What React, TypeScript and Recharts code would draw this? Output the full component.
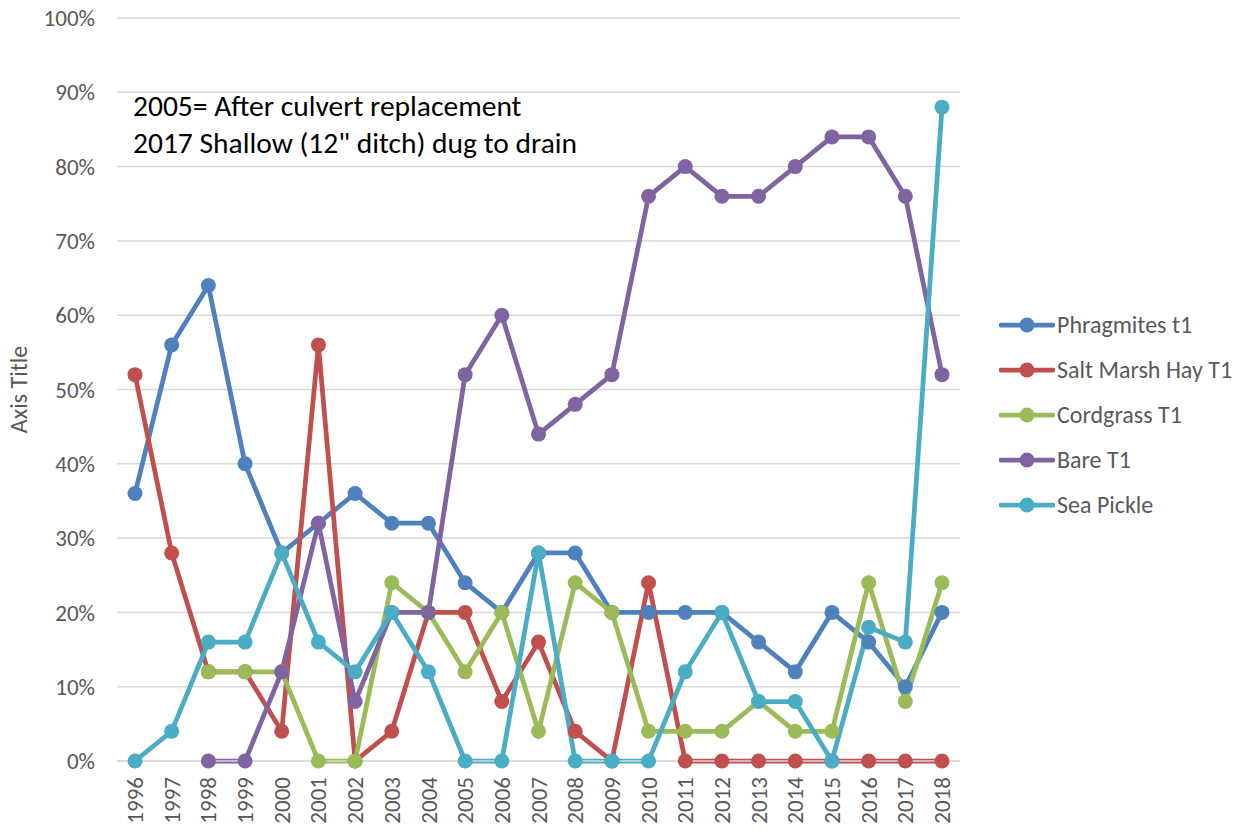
import React from 'react';
import {
  LineChart,
  Line,
  XAxis,
  YAxis,
  CartesianGrid,
  Legend,
  Label,
} from 'recharts';

const years = [
  '1996', '1997', '1998', '1999', '2000', '2001', '2002', '2003', '2004', '2005', '2006', '2007',
  '2008', '2009', '2010', '2011', '2012', '2013', '2014', '2015', '2016', '2017', '2018',
];

const phragmites = [36, 56, 64, 40, 28, 32, 36, 32, 32, 24, 20, 28, 28, 20, 20, 20, 20, 16, 12, 20, 16, 10, 20];
const saltMarshHay = [52, 28, 12, 12, 4, 56, 0, 4, 20, 20, 8, 16, 4, 0, 24, 0, 0, 0, 0, 0, 0, 0, 0];
const cordgrass = [null, null, 12, 12, 12, 0, 0, 24, 20, 12, 20, 4, 24, 20, 4, 4, 4, 8, 4, 4, 24, 8, 24];
const bare = [null, null, 0, 0, 12, 32, 8, 20, 20, 52, 60, 44, 48, 52, 76, 80, 76, 76, 80, 84, 84, 76, 52];
const seaPickle = [0, 4, 16, 16, 28, 16, 12, 20, 12, 0, 0, 28, 0, 0, 0, 12, 20, 8, 8, 0, 18, 16, 88];

const yTicks = [0, 10, 20, 30, 40, 50, 60, 70, 80, 90, 100];

const series = [
  { key: 'phragmites', name: 'Phragmites t1', color: '#4F81BD' },
  { key: 'saltMarshHay', name: 'Salt Marsh Hay T1', color: '#C0504D' },
  { key: 'cordgrass', name: 'Cordgrass T1', color: '#9BBB59' },
  { key: 'bare', name: 'Bare T1', color: '#8064A2' },
  { key: 'seaPickle', name: 'Sea Pickle', color: '#4BACC6' },
];

const data = years.map((year, i) => ({
  year,
  phragmites: phragmites[i],
  saltMarshHay: saltMarshHay[i],
  cordgrass: cordgrass[i],
  bare: bare[i],
  seaPickle: seaPickle[i],
}));

const FONT = "Carlito, Calibri, 'Liberation Sans', sans-serif";
const GREY = '#595959';

// rotated year labels under the axis
const YearTick = (props: any) => {
  const { x, y, payload } = props;
  return (
    <g transform={`translate(${x},${y + 8})`}>
      <text
        x={0}
        y={0}
        dy="0.35em"
        transform="rotate(-90)"
        textAnchor="end"
        fill={GREY}
        fontSize={23}
        fontFamily={FONT}
      >
        {payload.value}
      </text>
    </g>
  );
};

const AxisTitle = (props: any) => {
  const { viewBox } = props;
  const cy = viewBox.y + viewBox.height / 2;
  return (
    <text
      x={19}
      y={cy}
      dy="0.35em"
      transform={`rotate(-90, 19, ${cy})`}
      textAnchor="middle"
      fill={GREY}
      fontSize={24}
      fontFamily={FONT}
    >
      Axis Title
    </text>
  );
};

const renderLegend = () => (
  <div style={{ fontFamily: FONT }}>
    {series.map((s) => (
      <div key={s.key} style={{ display: 'flex', alignItems: 'center', height: 45 }}>
        <svg width={56} height={16} style={{ marginRight: 2 }}>
          <line x1={2} y1={8} x2={54} y2={8} stroke={s.color} strokeWidth={4.75} strokeLinecap="round" />
          <circle cx={28} cy={8} r={7.5} fill={s.color} />
        </svg>
        <span style={{ fontSize: 24, color: GREY, lineHeight: '24px' }}>{s.name}</span>
      </div>
    ))}
  </div>
);

export default function App() {
  return (
    <div style={{ position: 'absolute', left: 0, top: 0, width: 1241, height: 829, background: '#fff' }}>
      <LineChart
        width={1241}
        height={829}
        data={data}
        margin={{ top: 18, right: 281, left: 0, bottom: 0 }}
      >
        <CartesianGrid vertical={false} stroke="#D9D9D9" strokeWidth={1.5} />
        <XAxis
          dataKey="year"
          interval={0}
          height={68}
          padding={{ left: 18, right: 18 }}
          axisLine={{ stroke: '#D9D9D9', strokeWidth: 1.5 }}
          tickLine={false}
          tick={<YearTick />}
        />
        <YAxis
          domain={[0, 100]}
          ticks={yTicks}
          width={117}
          axisLine={false}
          tickLine={false}
          tickMargin={16}
          tickFormatter={(v) => `${v}%`}
          tick={{ fill: GREY, fontSize: 23, fontFamily: FONT }}
        >
          <Label content={<AxisTitle />} />
        </YAxis>
        <Legend
          layout="horizontal"
          align="center"
          verticalAlign="middle"
          content={renderLegend}
          wrapperStyle={{ left: 999, top: 302, width: 242 }}
        />
        {series.map((s) => (
          <Line
            key={s.key}
            type="linear"
            dataKey={s.key}
            name={s.name}
            stroke={s.color}
            strokeWidth={4.75}
            dot={{ r: 7.5, fill: s.color, stroke: s.color, strokeWidth: 0 }}
            activeDot={false}
            isAnimationActive={false}
          />
        ))}
      </LineChart>
      <div
        style={{
          position: 'absolute',
          left: 133,
          top: 88,
          fontFamily: FONT,
          fontSize: 29.5,
          lineHeight: '37px',
          color: '#000',
          whiteSpace: 'nowrap',
        }}
      >
        <div>2005= After culvert replacement</div>
        <div>2017 Shallow (12" ditch) dug to drain</div>
      </div>
    </div>
  );
}
